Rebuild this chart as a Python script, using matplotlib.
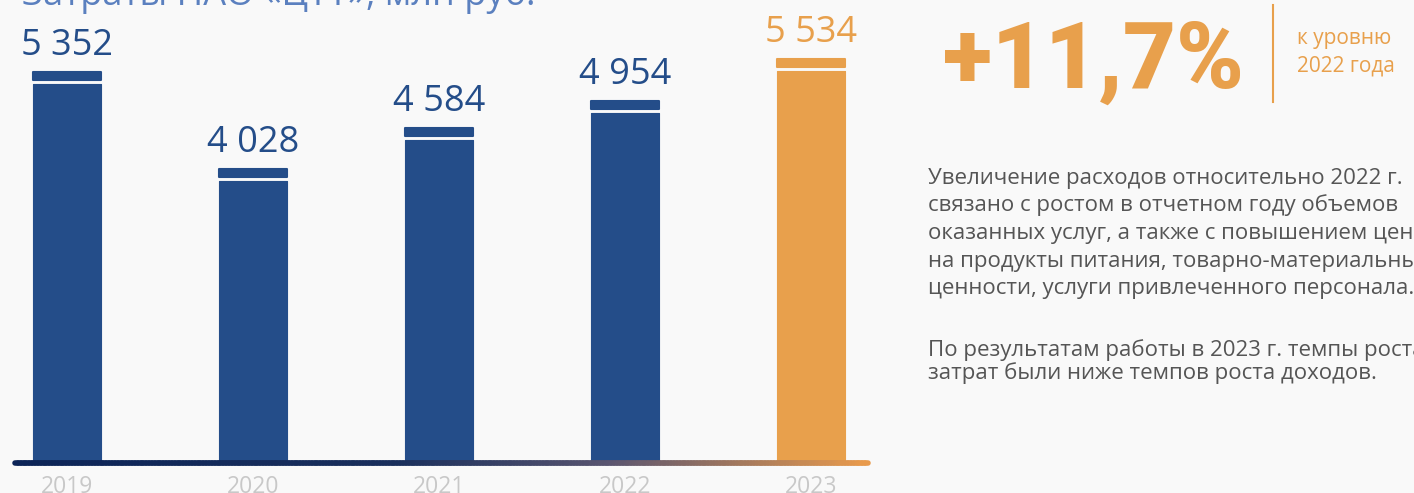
import numpy as np
import matplotlib.pyplot as plt
from matplotlib.collections import LineCollection
from matplotlib.colors import LinearSegmentedColormap

plt.rcParams['font.family'] = ['Open Sans', 'DejaVu Sans']

# данные
years = ['2019', '2020', '2021', '2022', '2023']
values = [5352, 4028, 4584, 4954, 5534]
labels = ['5 352', '4 028', '4 584', '4 954', '5 534']

BLUE = '#244d89'
ORANGE = '#e8a04c'
BG = '#f9f9f9'

fig = plt.figure(figsize=(14.14, 4.93), dpi=100, facecolor=BG)
ax = fig.add_axes([15 / 1414, 30 / 493, 853 / 1414, 438 / 493])
ax.set_facecolor(BG)

x = np.arange(len(years))
colors = [BLUE] * 4 + [ORANGE]
w = 0.366
cap = 105   # толщина "крышки"
gap = 60    # зазор между крышкой и столбиком

body = [v - cap - gap for v in values]
ax.bar(x, body, width=w, color=colors, edgecolor=colors, linewidth=0.8, joinstyle='round')
ax.bar(x, [cap] * len(values), bottom=[v - cap for v in values], width=w,
       color=colors, edgecolor=colors, linewidth=1.5, joinstyle='round')

for xi, v, lab, c in zip(x, values, labels, colors):
    ax.text(xi, v + 110, lab, ha='center', va='bottom', fontsize=26, color=c)

ax.set_xlim(-0.28, 4.306)
ax.set_ylim(0, 6000)
ax.axis('off')

# базовая линия с градиентом
xs = np.linspace(-0.28, 4.306, 300)
pts = np.array([xs, np.zeros_like(xs)]).T.reshape(-1, 1, 2)
segs = np.concatenate([pts[:-1], pts[1:]], axis=1)
cmap = LinearSegmentedColormap.from_list('g', [(0, '#0c2457'), (0.45, '#1a2f5c'),
                                               (0.7, '#5a5570'), (1, '#e89a4c')])
lc = LineCollection(segs, cmap=cmap, linewidth=4, capstyle='round', clip_on=False)
lc.set_array(np.linspace(0, 1, len(segs)))
ax.add_collection(lc)

for xi, y in zip(x, years):
    ax.text(xi, -160, y, ha='center', va='top', fontsize=16.5, color='#c8c8c8')

# заголовок (обрезан сверху, как в оригинале)
fig.text(22 / 1414, 1 - 5 / 493, 'Затраты НАО «ЦТТ», млн руб.', fontsize=26,
         color='#5b80bf', va='baseline', ha='left')

# правая часть
fig.text(943 / 1414, 1 - 88 / 493, '+11,7%', fontsize=66, fontweight='heavy',
         family=['Roboto', 'DejaVu Sans'], color=ORANGE, va='baseline', ha='left')
fig.add_artist(plt.Line2D([1273 / 1414, 1273 / 1414], [1 - 102 / 493, 1 - 5 / 493],
                          color=ORANGE, linewidth=1.5))
fig.text(1297 / 1414, 1 - 44 / 493, 'к уровню', fontsize=15, color=ORANGE, va='baseline')
fig.text(1297 / 1414, 1 - 72 / 493, '2022 года', fontsize=15, color=ORANGE, va='baseline')

para1 = ['Увеличение расходов относительно 2022 г.',
         'связано с ростом в отчетном году объемов',
         'оказанных услуг, а также с повышением цен',
         'на продукты питания, товарно-материальные',
         'ценности, услуги привлеченного персонала.']
para2 = ['По результатам работы в 2023 г. темпы роста',
         'затрат были ниже темпов роста доходов.']
for i, line in enumerate(para1):
    fig.text(928 / 1414, 1 - (184 + 27.5 * i) / 493, line, fontsize=16,
             color='#555555', va='baseline')
for i, line in enumerate(para2):
    fig.text(928 / 1414, 1 - (356 + 23 * i) / 493, line, fontsize=16,
             color='#555555', va='baseline')

fig.savefig('out.png', dpi=100, facecolor=BG)
